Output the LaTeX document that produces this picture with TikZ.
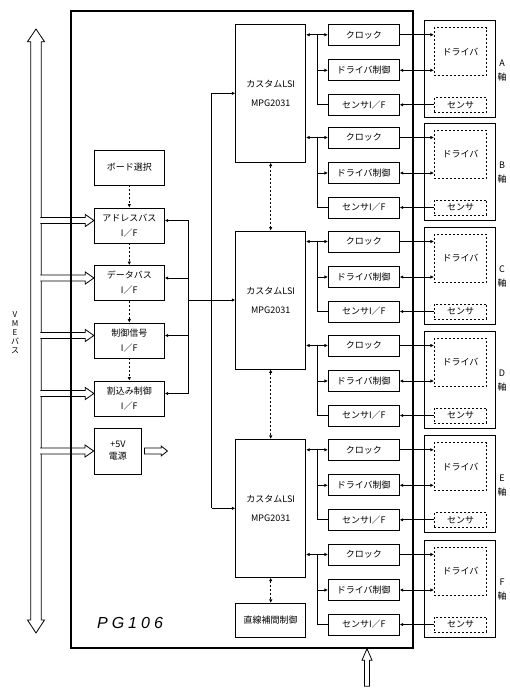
\documentclass[tikz,border=0pt]{standalone}
\usepackage{fontspec}
\setmainfont{Noto Sans CJK JP}
\newfontfamily\pgfont{Liberation Sans}
\usetikzlibrary{arrows.meta}

\begin{document}
\begin{tikzpicture}[x=1pt, y=-1pt, line width=0.8pt,
    font=\fontsize{9pt}{15pt}\selectfont,
    blk/.style={draw, inner sep=0pt, align=center},
    lbox/.style={blk, minimum width=70pt, minimum height=35pt},
    rbox/.style={blk, minimum width=71pt, minimum height=21pt},
    lsi/.style={blk, minimum width=70pt, minimum height=138pt, font=\fontsize{9pt}{19pt}\selectfont},
    dotln/.style={dash pattern=on 2pt off 2pt},
    dotbox/.style={draw, dotln, inner sep=0pt, minimum width=52.4pt},
    arr/.style={-{Latex[length=3.5pt,width=3.5pt]}},
    darr/.style={{Latex[length=3.5pt,width=3.5pt]}-{Latex[length=3.5pt,width=3.5pt]}}]
  \useasboundingbox (0,0) rectangle (509,693);

  \draw (30.7,620) -- (30.7,41.7) -- (27.5,41.7) -- (36,29) -- (44.5,41.7) -- (41.3,41.7) -- (41.3,620) -- (44.5,620) -- (36,633) -- (27.5,620) -- cycle;
  \node[font=\fontsize{8pt}{9pt}\selectfont, align=center] (vme) at (15,333) {V\\M\\E\\バ\\ス};

  \node[lbox] (sel) at (129.3,167.5) {ボード選択};
  \node[lbox] (adr) at (129.3,225.5) {アドレスバス\\I／F};
  \node[lbox] (dat) at (129.3,283) {データバス\\I／F};
  \node[lbox] (ctl) at (129.3,340.5) {制御信号\\I／F};
  \node[lbox] (irq) at (129.3,398.5) {割込み制御\\I／F};
  \node[blk, minimum width=47.7pt, minimum height=46pt, font=\fontsize{9pt}{12pt}\selectfont] (pwr) at (117.9,451) {+5V\\電源};

  \foreach \b/\s in {adr/5, dat/5, ctl/5, irq/5, pwr/0} {
    \coordinate (\b-l) at ([yshift=\s pt]\b.west);
    \draw[fill=white] ([shift={(-53.6,-3)}]\b-l) -- ++(45,0) -- ++(0,-3) -- (\b-l) -- ++(-8.6,6) -- ++(0,-3) -- ++(-45,0);
  }
  \draw ([shift={(2.3,-3)}]pwr.east) -- ++(16.7,0) -- ++(0,-2) -- ++(6.3,5) -- ++(-6.3,5) -- ++(0,-2) -- ++(-16.7,0) -- cycle;

  \draw[dotln, arr] (sel) -- (adr);
  \draw[dotln, arr] (adr) -- (dat);
  \draw[dotln, arr] (dat) -- (ctl);
  \draw[dotln, arr] (ctl) -- (irq);

  \node[lsi] (lsi1) at (270.7,93.3) {カスタムLSI\\MPG2031};
  \node[lsi] (lsi2) at (270.7,300) {カスタムLSI\\MPG2031};
  \node[lsi] (lsi3) at (270.7,508.3) {カスタムLSI\\MPG2031};
  \node[blk, minimum width=70pt, minimum height=34pt] (itp) at (270.7,620.3) {直線補間制御};
  \draw[dotln, darr] (lsi1) -- (lsi2);
  \draw[dotln, darr] (lsi2) -- (lsi3);
  \draw[dotln, darr] (lsi3) -- (itp);

  \coordinate (jl) at (188.7,300);
  \coordinate (jr) at (211.7,300);
  \foreach \b in {adr,dat,ctl,irq} {
    \coordinate (\b-r) at ([yshift=5pt]\b.east);
    \draw[arr] (jl |- \b-r) -- (\b-r);
  }
  \draw (jl |- adr-r) -- (jl |- irq-r);
  \draw (jl) -- (jr);
  \draw (jr |- lsi1) -- (jr |- lsi3);
  \foreach \l in {lsi1,lsi2,lsi3}
    \draw[arr] (jr |- \l) -- (\l.west);

  \foreach \ax/\l/\t in {A/lsi1/24.3, B/lsi1/127, C/lsi2/231, D/lsi2/335, E/lsi3/439.3, F/lsi3/544} {
    \node[rbox] (clk\ax) at (363.8,\t+10.5) {クロック};
    \node[rbox] (drv\ax) at (363.8,\t+46) {ドライバ制御};
    \node[rbox] (sif\ax) at (363.8,\t+80.5) {センサI／F};
    \node[draw, minimum width=70.7pt, minimum height=97pt] (ax\ax) at (459.7,\t+44.9) {};
    \node[dotbox, minimum height=48pt] (dr\ax) at (460.5,\t+27.4) {ドライバ};
    \node[dotbox, minimum height=15pt] (se\ax) at (460.5,\t+80.5) {センサ};
    \node[align=center, font=\fontsize{9pt}{14pt}\selectfont] (lb\ax) at (502,\t+46) {\ax\\軸};
    \coordinate (br\ax) at (317.7,\t+10.5);
    \draw[darr] (\l.east |- clk\ax) -- (clk\ax.west);
    \draw[arr] (br\ax |- drv\ax) -- (drv\ax.west);
    \draw (br\ax) |- (sif\ax.west);
    \draw[arr] (clk\ax.east) -- (dr\ax.west |- clk\ax);
    \draw[darr] (drv\ax.east) -- (dr\ax.west |- drv\ax);
    \draw[arr] (se\ax.west) -- (sif\ax.east);
  }

  \node[draw, line width=2pt, minimum width=342pt, minimum height=636.7pt] (board) at (241.7,329.35) {};
  \node[font=\pgfont\itshape\fontsize{16pt}{16pt}\selectfont] (name) at (130,623) {P\kern4pt G\kern4pt 1\kern4pt 0\kern4pt 6};
  \coordinate (in) at (367,648.7);
  \draw (in) -- ++(5,11.5) -- ++(-2.5,0) -- ++(0,26) -- ++(-5,0) -- ++(0,-26) -- ++(-2.5,0) -- cycle;
\end{tikzpicture}
\end{document}
